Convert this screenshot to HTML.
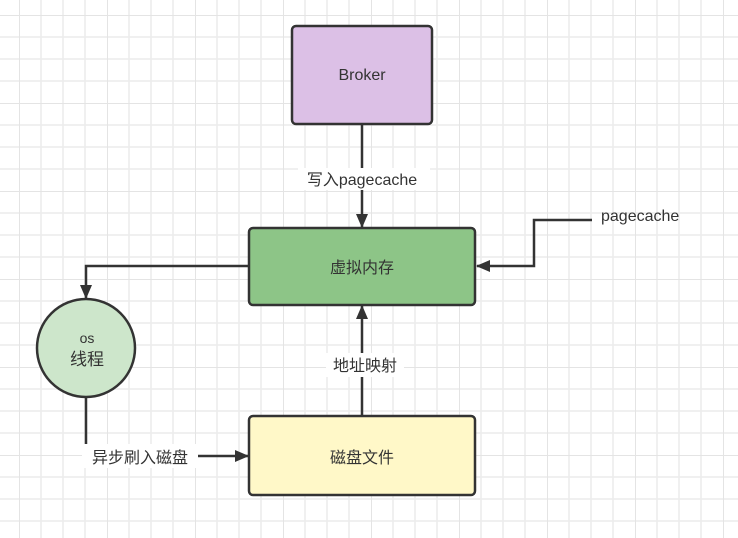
<!DOCTYPE html>
<html><head><meta charset="utf-8"><style>
html,body{margin:0;padding:0;background:#fff}
svg{display:block}
text{font-family:"Liberation Sans","Noto Sans CJK SC",sans-serif;fill:#333}
</style></head><body>
<svg width="738" height="538" viewBox="0 0 738 538" xmlns="http://www.w3.org/2000/svg">
<defs>
<pattern id="g" x="19" y="15" width="88" height="88" patternUnits="userSpaceOnUse">
<path d="M22 0V88M44 0V88M66 0V88M0 22H88M0 44H88M0 66H88" stroke="#ececec" stroke-width="1.5"/>
<path d="M0 0V88M0 0H88" stroke="#e4e4e4" stroke-width="2"/>
</pattern>
<marker id="a" markerWidth="14" markerHeight="14" refX="13" refY="7" orient="auto" markerUnits="userSpaceOnUse" viewBox="0 0 14 14">
<path d="M0 1L14 7L0 13z" fill="#333"/>
</marker>
</defs>
<rect width="738" height="538" fill="#fff"/>
<rect width="738" height="538" fill="url(#g)"/>
<g stroke="#333" stroke-width="2.5" fill="none">
<rect x="292" y="26" width="140" height="98" rx="4" fill="#dcc0e6"/>
<rect x="249" y="228" width="226" height="77" rx="4" fill="#8dc587"/>
<rect x="249" y="416" width="226" height="79" rx="4" fill="#fff8c8"/>
<circle cx="86" cy="348" r="49" fill="#cde6cb"/>
<path d="M362 124V227" marker-end="url(#a)"/>
<path d="M592 220H534V266H477" marker-end="url(#a)"/>
<path d="M249 266H86V298" marker-end="url(#a)"/>
<path d="M86 398V456H248" marker-end="url(#a)"/>
<path d="M362 416V306" marker-end="url(#a)"/>
</g>
<rect x="298" y="168" width="132" height="22" fill="#fff"/>
<rect x="326" y="353" width="78" height="24" fill="#fff"/>
<rect x="82" y="444" width="116" height="24" fill="#fff"/>
<text x="362" y="80" font-size="16" text-anchor="middle">Broker</text>
<text x="362" y="185" font-size="16" text-anchor="middle">写入pagecache</text>
<text x="362" y="273" font-size="16" text-anchor="middle">虚拟内存</text>
<text x="362" y="463" font-size="16" text-anchor="middle">磁盘文件</text>
<text x="365" y="371" font-size="16" text-anchor="middle">地址映射</text>
<text x="140" y="463" font-size="16" text-anchor="middle">异步刷入磁盘</text>
<text x="601" y="221" font-size="16">pagecache</text>
<text x="87" y="343" font-size="14" text-anchor="middle">os</text>
<text x="87" y="365" font-size="17" text-anchor="middle">线程</text>
</svg>
</body></html>
